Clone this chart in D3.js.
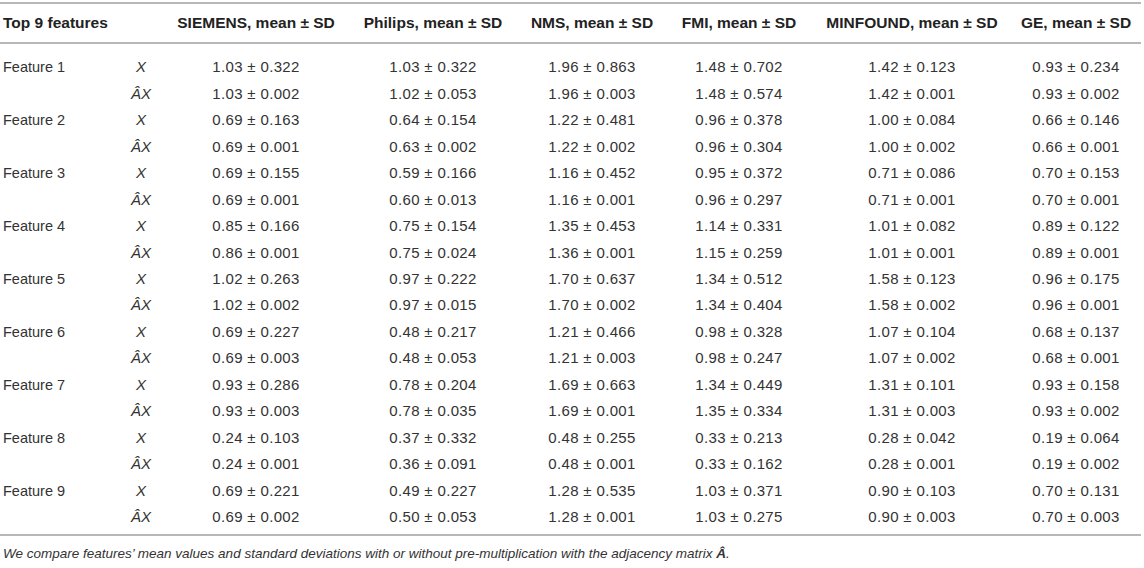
<!DOCTYPE html>
<html>
<head>
<meta charset="utf-8">
<script src="https://cdn.jsdelivr.net/npm/d3@7"></script>
<style>
  body { margin: 0; background: #fff; }
  text { font-family: "Liberation Sans", Arial, sans-serif; }
</style>
</head>
<body>
<svg id="table" width="1144" height="568"></svg>
<script>
let features = ["Feature 1", "Feature 2", "Feature 3", "Feature 4", "Feature 5", "Feature 6", "Feature 7", "Feature 8", "Feature 9"]
let scanners = ["SIEMENS", "Philips", "NMS", "FMI", "MINFOUND", "GE"]

// [mean, sd] per feature, raw X then ÂX
let siemensX  = [[1.03, 0.322], [0.69, 0.163], [0.69, 0.155], [0.85, 0.166], [1.02, 0.263], [0.69, 0.227], [0.93, 0.286], [0.24, 0.103], [0.69, 0.221]]
let siemensAX = [[1.03, 0.002], [0.69, 0.001], [0.69, 0.001], [0.86, 0.001], [1.02, 0.002], [0.69, 0.003], [0.93, 0.003], [0.24, 0.001], [0.69, 0.002]]
let philipsX  = [[1.03, 0.322], [0.64, 0.154], [0.59, 0.166], [0.75, 0.154], [0.97, 0.222], [0.48, 0.217], [0.78, 0.204], [0.37, 0.332], [0.49, 0.227]]
let philipsAX = [[1.02, 0.053], [0.63, 0.002], [0.60, 0.013], [0.75, 0.024], [0.97, 0.015], [0.48, 0.053], [0.78, 0.035], [0.36, 0.091], [0.50, 0.053]]
let nmsX      = [[1.96, 0.863], [1.22, 0.481], [1.16, 0.452], [1.35, 0.453], [1.70, 0.637], [1.21, 0.466], [1.69, 0.663], [0.48, 0.255], [1.28, 0.535]]
let nmsAX     = [[1.96, 0.003], [1.22, 0.002], [1.16, 0.001], [1.36, 0.001], [1.70, 0.002], [1.21, 0.003], [1.69, 0.001], [0.48, 0.001], [1.28, 0.001]]
let fmiX      = [[1.48, 0.702], [0.96, 0.378], [0.95, 0.372], [1.14, 0.331], [1.34, 0.512], [0.98, 0.328], [1.34, 0.449], [0.33, 0.213], [1.03, 0.371]]
let fmiAX     = [[1.48, 0.574], [0.96, 0.304], [0.96, 0.297], [1.15, 0.259], [1.34, 0.404], [0.98, 0.247], [1.35, 0.334], [0.33, 0.162], [1.03, 0.275]]
let minfoundX  = [[1.42, 0.123], [1.00, 0.084], [0.71, 0.086], [1.01, 0.082], [1.58, 0.123], [1.07, 0.104], [1.31, 0.101], [0.28, 0.042], [0.90, 0.103]]
let minfoundAX = [[1.42, 0.001], [1.00, 0.002], [0.71, 0.001], [1.01, 0.001], [1.58, 0.002], [1.07, 0.002], [1.31, 0.003], [0.28, 0.001], [0.90, 0.003]]
let geX       = [[0.93, 0.234], [0.66, 0.146], [0.70, 0.153], [0.89, 0.122], [0.96, 0.175], [0.68, 0.137], [0.93, 0.158], [0.19, 0.064], [0.70, 0.131]]
let geAX      = [[0.93, 0.002], [0.66, 0.001], [0.70, 0.001], [0.89, 0.001], [0.96, 0.001], [0.68, 0.001], [0.93, 0.002], [0.19, 0.002], [0.70, 0.003]]

let columns = {
  SIEMENS: [siemensX, siemensAX],
  Philips: [philipsX, philipsAX],
  NMS: [nmsX, nmsAX],
  FMI: [fmiX, fmiAX],
  MINFOUND: [minfoundX, minfoundAX],
  GE: [geX, geAX]
}

let width = 1144
let svg = d3.select("#table")
let ink = "#333"
let rule = "#b8b8b8"

let colX = d3.scaleOrdinal()
    .domain(scanners)
    .range([256, 433, 592, 739, 912, 1076])

// 18 body rows: feature i -> rows 2i (X) and 2i+1 (ÂX)
let rowY = d3.scaleLinear()
    .domain([0, 17])
    .range([67, 517])

// rules
svg.selectAll("line.rule")
  .data([3, 43, 535])
  .join("line")
  .attr("class", "rule")
  .attr("x1", 0)
  .attr("x2", width - 3)
  .attr("y1", d => d)
  .attr("y2", d => d)
  .style("stroke", rule)
  .style("stroke-width", 2)

// header
svg.append("text")
  .attr("x", 3)
  .attr("y", 23)
  .attr("dy", "0.35em")
  .style("font-size", "15.5px")
  .style("font-weight", "bold")
  .style("fill", "#222")
  .text("Top 9 features")

svg.selectAll("text.head")
  .data(scanners)
  .join("text")
  .attr("class", "head")
  .attr("x", d => colX(d))
  .attr("y", 23)
  .attr("dy", "0.35em")
  .attr("text-anchor", "middle")
  .style("font-size", "15.5px")
  .style("font-weight", "bold")
  .style("fill", "#222")
  .text(d => d + ", mean \u00b1 SD")

// feature names
svg.selectAll("text.feat")
  .data(features)
  .join("text")
  .attr("class", "feat")
  .attr("x", 3)
  .attr("y", (d, i) => rowY(i * 2))
  .attr("dy", "0.35em")
  .style("font-size", "14.5px")
  .style("fill", ink)
  .text(d => d)

// X / ÂX labels
let kinds = ["X", "\u00c2X"]
let rowKeys = d3.range(18)

svg.selectAll("text.kind")
  .data(rowKeys)
  .join("text")
  .attr("class", "kind")
  .attr("x", 141)
  .attr("y", d => rowY(d))
  .attr("dy", "0.35em")
  .attr("text-anchor", "middle")
  .style("font-size", "15px")
  .style("font-style", "italic")
  .style("fill", ink)
  .text(d => kinds[d % 2])

// value cells
let cells = []
scanners.forEach(s => {
  features.forEach((f, i) => {
    cells.push({ scanner: s, row: i * 2, v: columns[s][0][i] })
    cells.push({ scanner: s, row: i * 2 + 1, v: columns[s][1][i] })
  })
})

svg.selectAll("text.cell")
  .data(cells)
  .join("text")
  .attr("class", "cell")
  .attr("x", d => colX(d.scanner))
  .attr("y", d => rowY(d.row))
  .attr("dy", "0.35em")
  .attr("text-anchor", "middle")
  .style("font-size", "15px")
  .style("letter-spacing", "0.35px")
  .style("fill", ink)
  .text(d => d.v[0].toFixed(2) + " \u00b1 " + d.v[1].toFixed(3))

// footnote
let note = svg.append("text")
  .attr("x", 3)
  .attr("y", 553)
  .attr("dy", "0.35em")
  .style("font-size", "13.5px")
  .style("font-style", "italic")
  .style("fill", ink)

note.append("tspan")
  .text("We compare features\u2019 mean values and standard deviations with or without pre-multiplication with the adjacency matrix ")
note.append("tspan")
  .style("font-weight", "bold")
  .text("\u00c2")
note.append("tspan")
  .text(".")
</script>
</body>
</html>
